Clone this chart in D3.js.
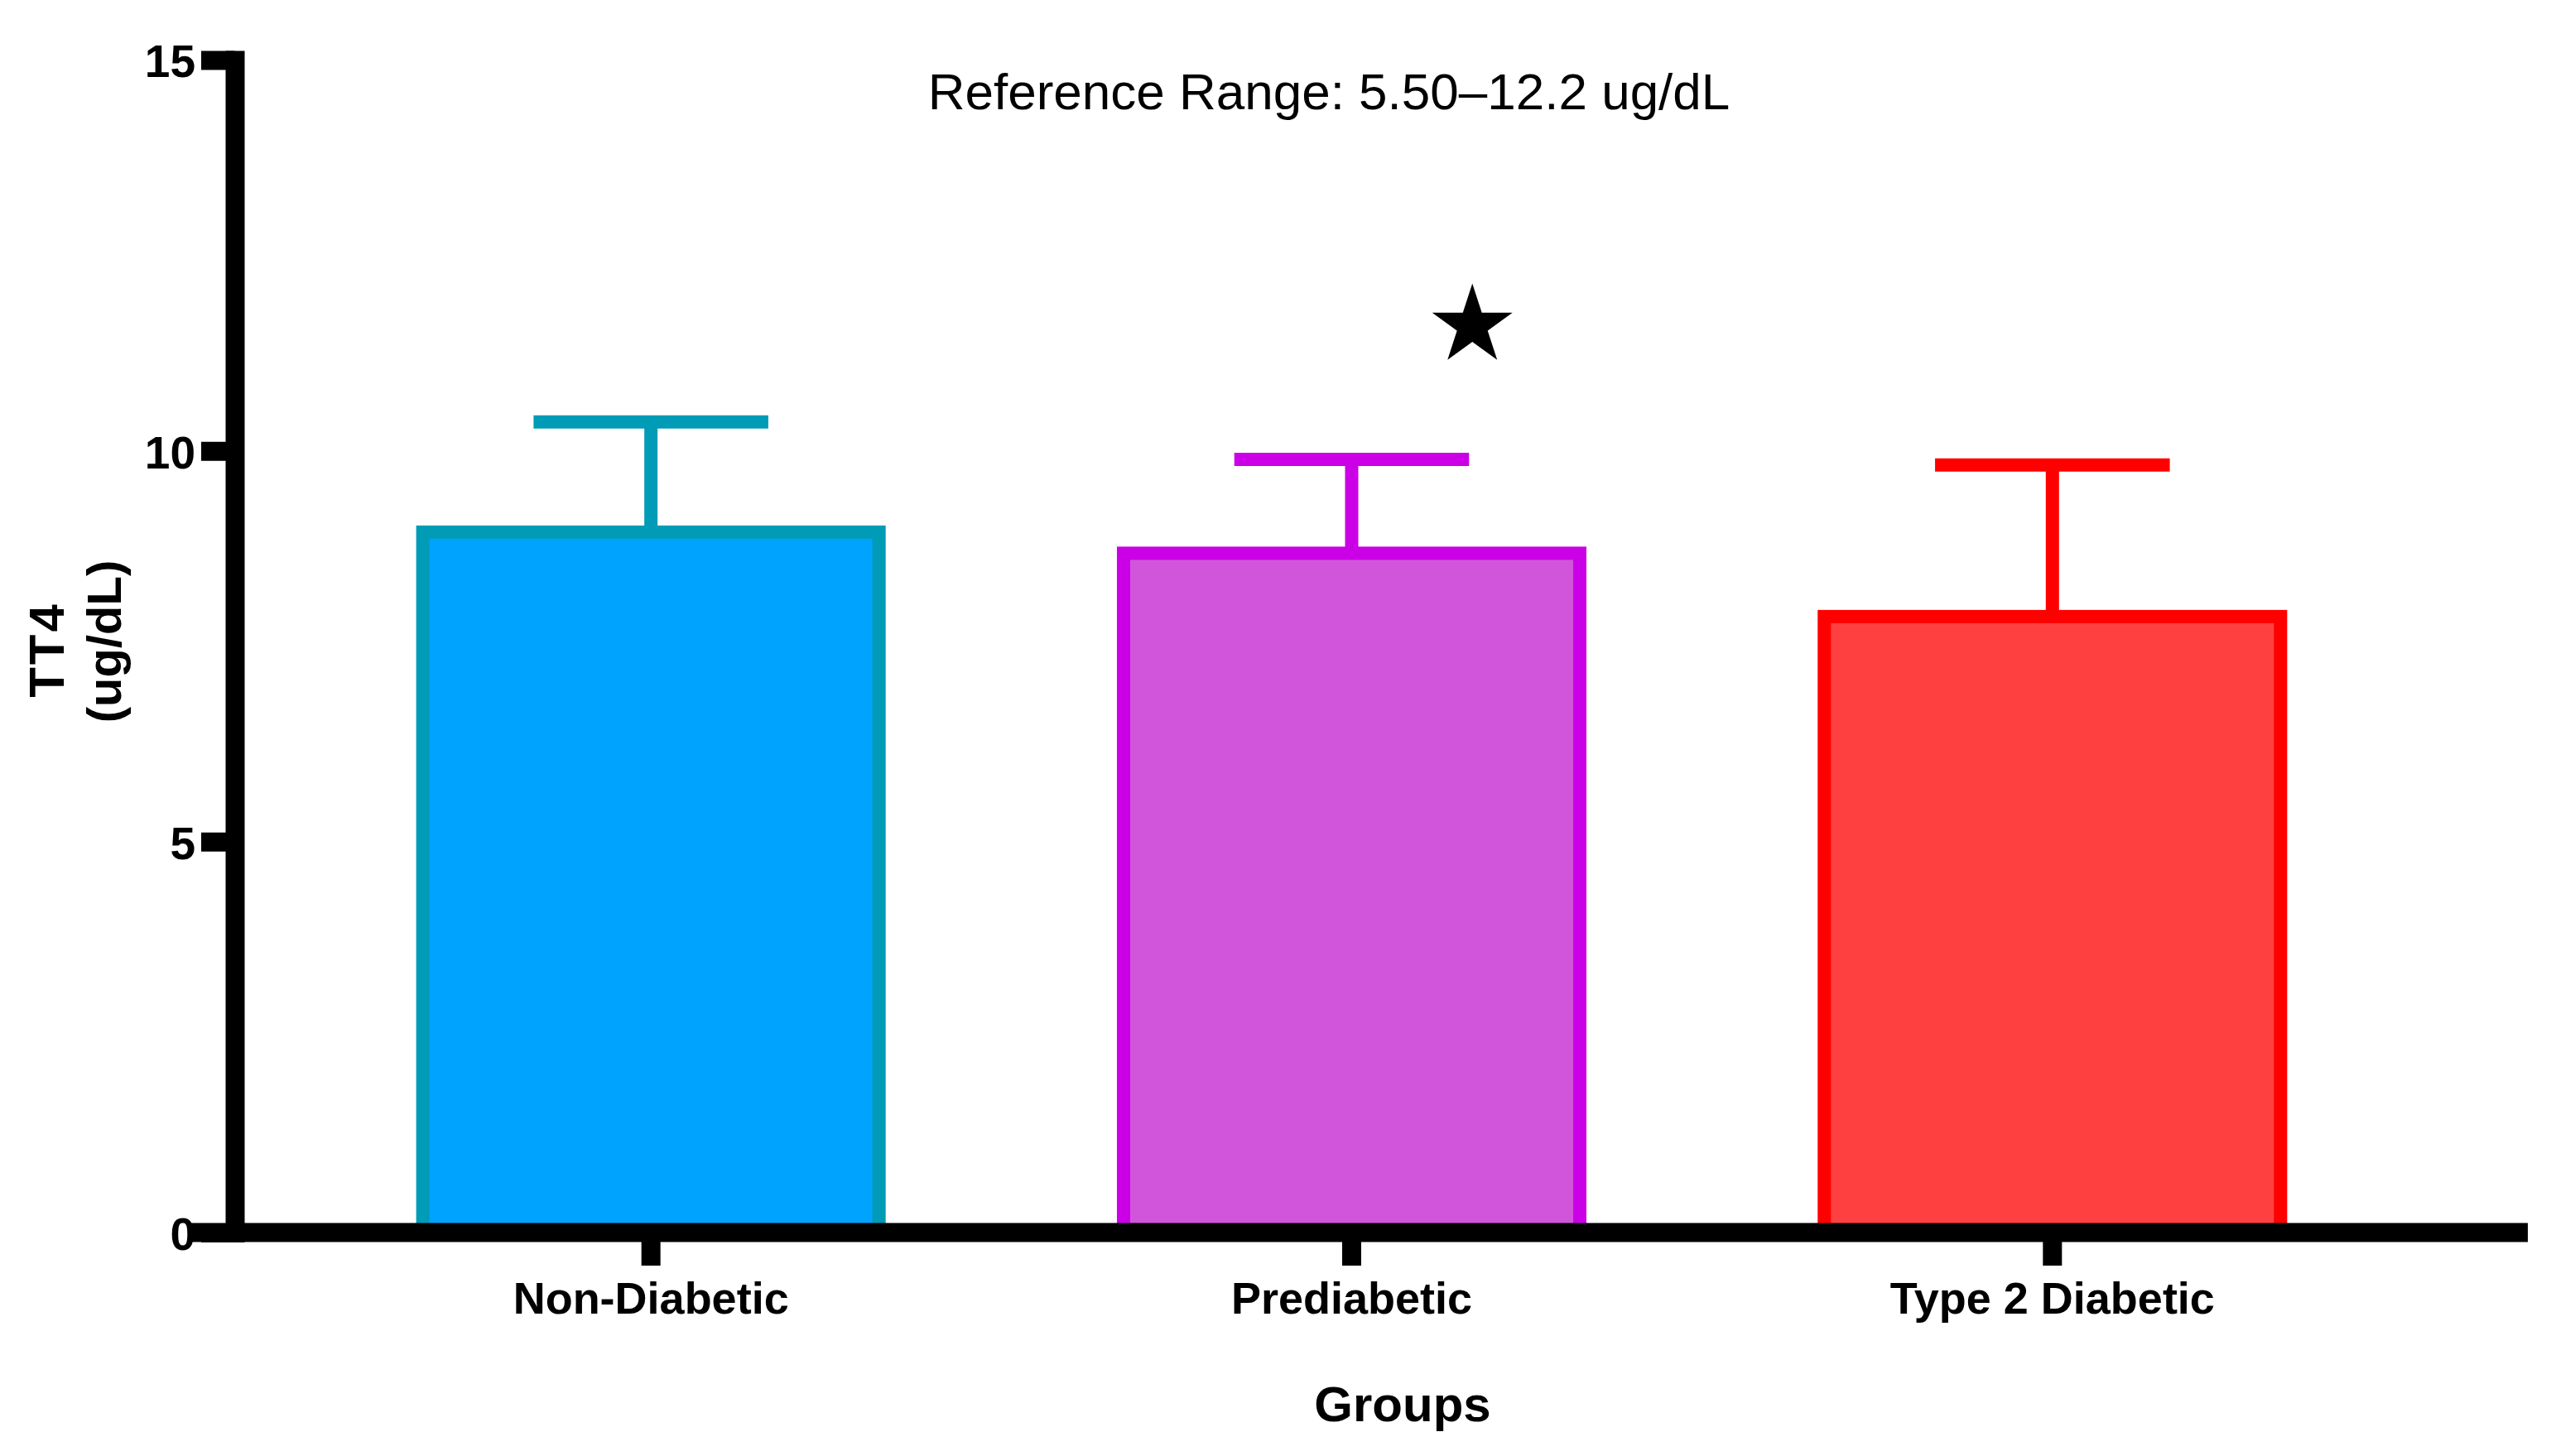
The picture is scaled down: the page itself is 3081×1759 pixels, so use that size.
<!DOCTYPE html>
<html>
<head>
<meta charset="utf-8">
<script src="https://cdn.jsdelivr.net/npm/d3@7"></script>
<style>
  body { margin: 0; background: #fff; }
  svg { display: block; font-family: "Liberation Sans", Arial, sans-serif; }
</style>
</head>
<body>
<svg id="chart"></svg>
<script>
// values
const groups = ["Non-Diabetic", "Prediabetic", "Type 2 Diabetic"];
const means = [8.96, 8.69, 7.88];
const sds = [1.41, 1.2, 1.94];
const yTicks = [0, 5, 10, 15];
const fills = ["#00A3FD", "#D155DB", "#FF4040"];
const strokes = ["#009BB6", "#CC00E6", "#FF0000"];
const starGroup = "Prediabetic";
const starValue = 11.6;
const title = "Reference Range: 5.50\u201312.2 ug/dL";

const W = 3081, H = 1759;
const axisX = 283.5, axisLeftEnd = 230, axisRightEnd = 3053;
const axisW = 23, barStroke = 16;

const svg = d3.select("#chart").attr("width", W).attr("height", H);

const y = d3.scaleLinear().domain([0, 15]).range([1489, 72.5]);
const x = d3.scaleBand()
  .domain(groups)
  .range([363, 2902])
  .paddingInner(0.33)
  .paddingOuter(0.165);

const data = groups.map((g, i) => ({
  name: g, mean: means[i], sd: sds[i], fill: fills[i], stroke: strokes[i]
}));

// bars
svg.selectAll(".bar")
  .data(data)
  .enter()
  .append("rect")
  .attr("class", "bar")
  .attr("x", (d) => x(d.name) + barStroke / 2)
  .attr("width", x.bandwidth() - barStroke)
  .attr("y", (d) => y(d.mean))
  .attr("height", (d) => y(0) - y(d.mean))
  .style("fill", (d) => d.fill)
  .style("stroke", (d) => d.stroke)
  .style("stroke-width", barStroke);

// error bars (upper only)
const err = svg.selectAll(".err").data(data).enter().append("g").attr("class", "err");
err.append("line")
  .attr("x1", (d) => x(d.name) + x.bandwidth() / 2)
  .attr("x2", (d) => x(d.name) + x.bandwidth() / 2)
  .attr("y1", (d) => y(d.mean))
  .attr("y2", (d) => y(d.mean + d.sd))
  .style("stroke", (d) => d.stroke)
  .style("stroke-width", barStroke);
err.append("line")
  .attr("x1", (d) => x(d.name) + x.bandwidth() / 4)
  .attr("x2", (d) => x(d.name) + x.bandwidth() * 3 / 4)
  .attr("y1", (d) => y(d.mean + d.sd))
  .attr("y2", (d) => y(d.mean + d.sd))
  .style("stroke", (d) => d.stroke)
  .style("stroke-width", barStroke);

// significance star
svg.append("path")
  .attr("d", d3.symbol(d3.symbolStar).size(2920)())
  .attr("transform", `translate(${x(starGroup) + x.bandwidth() * 0.757},${y(starValue)})`)
  .style("fill", "#000");

// x axis
const xAxis = svg.append("g")
  .attr("transform", `translate(0,${y(0)})`)
  .call(d3.axisBottom(x).tickSize(40).tickSizeOuter(0).tickPadding(20));
xAxis.select(".domain").remove();
xAxis.selectAll(".tick line").style("stroke", "#000").style("stroke-width", axisW);
xAxis.selectAll(".tick text")
  .style("font-size", "54px")
  .style("font-weight", "bold")
  .style("fill", "#000");
xAxis.append("line")
  .attr("x1", axisLeftEnd)
  .attr("x2", axisRightEnd)
  .style("stroke", "#000")
  .style("stroke-width", axisW);

// y axis
const yAxis = svg.append("g")
  .attr("transform", `translate(${axisX},0)`)
  .call(d3.axisLeft(y).tickValues(yTicks).tickSize(40.5).tickSizeOuter(0).tickPadding(7));
yAxis.select(".domain")
  .style("stroke", "#000")
  .style("stroke-width", axisW)
  .style("stroke-linecap", "square");
yAxis.selectAll(".tick line").style("stroke", "#000").style("stroke-width", axisW);
yAxis.selectAll(".tick text")
  .attr("dy", "0.37em")
  .style("font-size", "55px")
  .style("font-weight", "bold")
  .style("fill", "#000");

// titles
svg.append("text")
  .attr("x", 1605)
  .attr("y", 132)
  .attr("text-anchor", "middle")
  .style("font-size", "62px")
  .text(title);

svg.append("text")
  .attr("x", 1694)
  .attr("y", 1717)
  .attr("text-anchor", "middle")
  .style("font-size", "60px")
  .style("font-weight", "bold")
  .text("Groups");

svg.append("text")
  .attr("transform", "translate(77,785) rotate(-90)")
  .attr("text-anchor", "middle")
  .style("font-size", "60px")
  .style("font-weight", "bold")
  .style("letter-spacing", "3px")
  .text("TT4");

svg.append("text")
  .attr("transform", "translate(146,775) rotate(-90)")
  .attr("text-anchor", "middle")
  .style("font-size", "58px")
  .style("font-weight", "bold")
  .text("(ug/dL)");
</script>
</body>
</html>
